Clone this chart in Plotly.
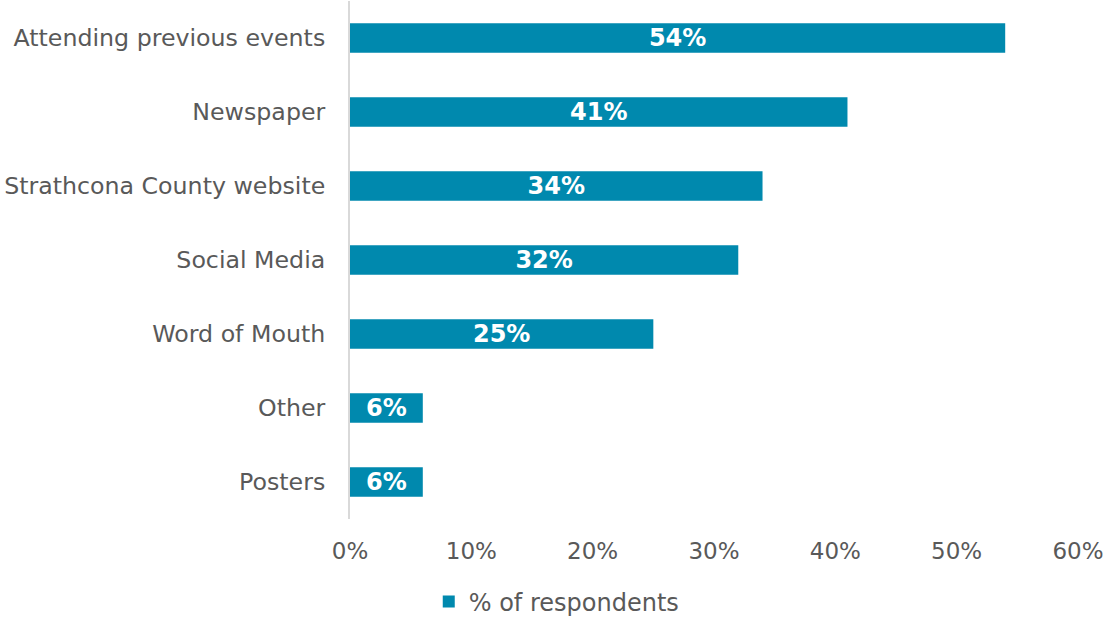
import plotly.graph_objects as go

categories = ["Attending previous events", "Newspaper", "Strathcona County website",
              "Social Media", "Word of Mouth", "Other", "Posters"]
values = [54, 41, 34, 32, 25, 6, 6]
tick_vals = [0, 10, 20, 30, 40, 50, 60]
tick_text = ["0%", "10%", "20%", "30%", "40%", "50%", "60%"]
series_name = "% of respondents"

FONT = "DejaVu Sans"
fig = go.Figure()
fig.add_trace(go.Bar(
    y=categories, x=values, orientation="h", name=series_name,
    marker=dict(color="#0089AE", line=dict(width=0)),
    text=[f"{v}%" for v in values], textposition="inside", insidetextanchor="middle",
    constraintext="none", cliponaxis=False,
    textfont=dict(family=FONT, size=24, color="white", weight="bold"),
    showlegend=True, hoverinfo="skip",
))
fig.update_layout(
    width=1107, height=617,
    margin=dict(l=350, r=29, t=1, b=98, autoexpand=False),
    plot_bgcolor="white", paper_bgcolor="white",
    bargap=0.6,
    font=dict(family=FONT, size=23.7, color="#595959"),
    xaxis=dict(range=[0, 60], tickvals=tick_vals, ticktext=tick_text, showgrid=False,
               zeroline=False, showline=False, ticks="outside", ticklen=11, tickcolor="rgba(0,0,0,0)",
               tickfont=dict(size=23, color="#595959"), tickangle=0),
    yaxis=dict(autorange="reversed", showline=True, linecolor="#D9D9D9", linewidth=2,
               ticks="outside", ticklen=18, tickcolor="rgba(0,0,0,0)", showgrid=False,
               tickfont=dict(size=23.7, color="#595959")),
    legend=dict(orientation="h", x=0.284, xanchor="center", y=-0.16,
                yanchor="middle", font=dict(size=24, color="#595959")),
    uniformtext=dict(mode=False),
)
fig.write_html("out.html", config={"displayModeBar": False},
               post_script="document.body.style.margin='0';")
